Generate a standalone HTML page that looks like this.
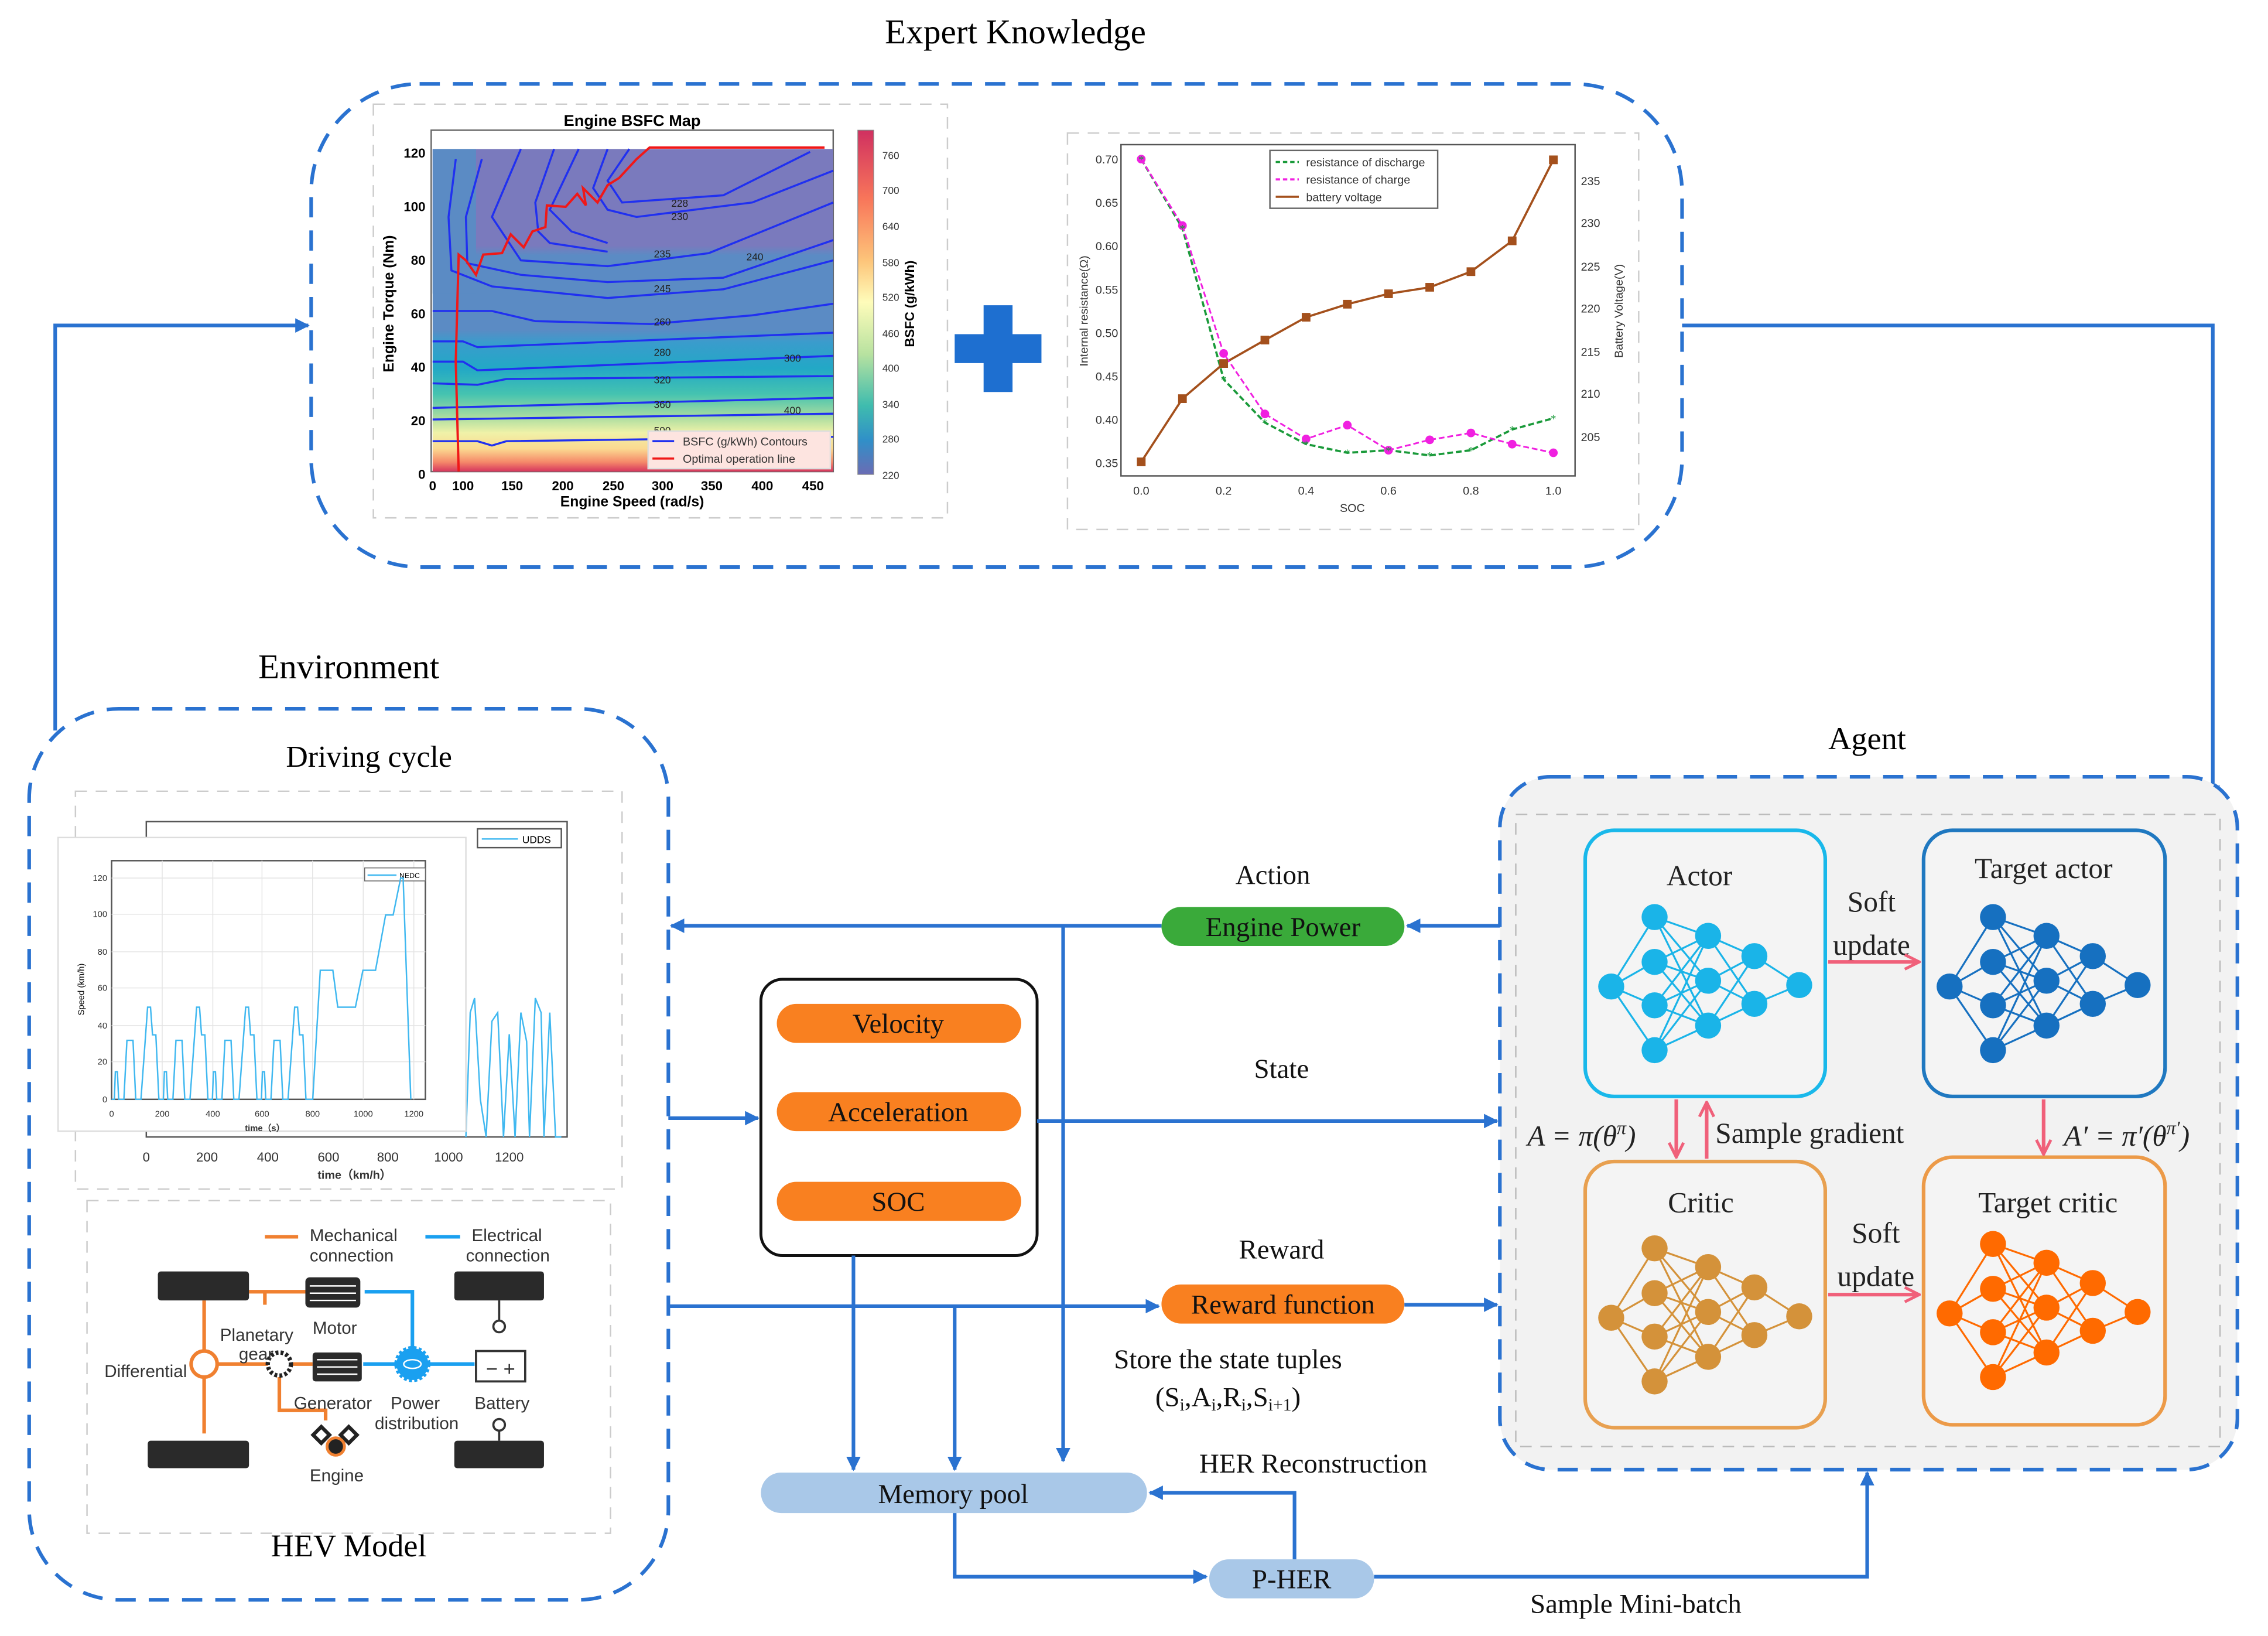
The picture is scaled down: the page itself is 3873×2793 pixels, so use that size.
<!DOCTYPE html>
<html><head><meta charset="utf-8"><style>
html,body{margin:0;padding:0;background:#fff;}
svg{display:block;}
.ser{font-family:"Liberation Serif",serif;}
.sans{font-family:"Liberation Sans",sans-serif;}
</style></head><body>
<svg id="s" width="3873" height="2793" viewBox="0 0 1568 1131" xmlns="http://www.w3.org/2000/svg">
<defs>
<marker id="ab" markerWidth="10" markerHeight="10" refX="9" refY="5" orient="auto" markerUnits="userSpaceOnUse"><path d="M0,0 L10,5 L0,10 z" fill="#2a72d0"/></marker>
<marker id="ap" markerWidth="12" markerHeight="12" refX="11" refY="6" orient="auto" markerUnits="userSpaceOnUse"><path d="M1,1 L11,6 L1,11" fill="none" stroke="#f0607a" stroke-width="2"/></marker>
<linearGradient id="bsfc" x1="0" y1="0" x2="0" y2="1">
<stop offset="0" stop-color="#7a7abd"/><stop offset="0.3" stop-color="#7a7abd"/><stop offset="0.33" stop-color="#5b8bc4"/><stop offset="0.56" stop-color="#5b8bc4"/><stop offset="0.6" stop-color="#3a9ccc"/><stop offset="0.68" stop-color="#22a8c6"/><stop offset="0.76" stop-color="#45c3b0"/><stop offset="0.83" stop-color="#a8dca0"/><stop offset="0.88" stop-color="#f0f2a8"/><stop offset="0.93" stop-color="#fbd890"/><stop offset="0.97" stop-color="#f58a6a"/><stop offset="1" stop-color="#d6365e"/></linearGradient>
<linearGradient id="cb" x1="0" y1="0" x2="0" y2="1">
<stop offset="0" stop-color="#d03060"/><stop offset="0.2" stop-color="#f8765a"/><stop offset="0.38" stop-color="#fdc57a"/><stop offset="0.5" stop-color="#fefcba"/><stop offset="0.65" stop-color="#b8e2a0"/><stop offset="0.8" stop-color="#3fbcae"/><stop offset="0.9" stop-color="#3090c8"/><stop offset="1" stop-color="#6a6cb4"/></linearGradient>
</defs>

<!-- Expert knowledge -->
<text x="702" y="30" class="ser" font-size="24" text-anchor="middle">Expert Knowledge</text>
<rect x="215" y="58" width="948" height="334" rx="75" fill="none" stroke="#2a72d0" stroke-width="2.5" stroke-dasharray="14,9"/>
<rect x="258" y="72" width="397" height="286" fill="#fff" stroke="#ccc" stroke-dasharray="8,6"/>
<text x="437" y="87" class="sans" font-size="11" font-weight="bold" text-anchor="middle">Engine BSFC Map</text>
<rect x="298" y="90" width="278" height="236" fill="#fff" stroke="#666"/>
<rect x="299" y="103" width="277" height="223" fill="url(#bsfc)"/>
<rect x="299" y="103" width="30" height="100" fill="#5b8bc4"/>
<g fill="none" stroke="#2030f0" stroke-width="1.4">
<path d="M299,305 L330,305 L340,308 L350,305 L576,302"/>
<path d="M299,290 L576,286"/>
<path d="M299,282 L576,275"/>
<path d="M299,265 L330,266 L350,262 L576,260"/>
<path d="M299,250 L320,250 L330,256 L576,246"/>
<path d="M299,236 L320,236 L330,240 L576,230"/>
<path d="M299,215 L340,215 L370,222 L450,224 L520,218 L576,210"/>
<path d="M315,110 L310,150 L312,187 L340,198 L420,206 L500,200 L576,180"/>
<path d="M333,110 L322,150 L323,182 L360,190 L420,195 L500,192 L576,166"/>
<path d="M360,103 L340,150 L360,180 L420,184 L490,175 L576,140"/>
<path d="M383,103 L370,140 L372,160 L380,168 L420,174"/>
<path d="M400,103 L380,145 L395,160 L420,168"/>
<path d="M420,103 L410,130 L420,145 L440,150 L520,140 L576,118"/>
<path d="M435,103 L420,125 L430,140 L500,135 L560,105"/>
</g>
<g class="sans" font-size="7" fill="#222">
<text x="464" y="143">228</text><text x="464" y="152">230</text><text x="452" y="178">235</text><text x="516" y="180">240</text><text x="452" y="202">245</text><text x="452" y="225">260</text><text x="452" y="246">280</text><text x="542" y="250">300</text><text x="452" y="265">320</text><text x="452" y="282">360</text><text x="542" y="286">400</text><text x="452" y="300">500</text></g>
<path d="M317,326 L315,250 L317,176 L322,180 L329,190 L334,176 L347,175 L353,162 L362,171 L368,160 L377,157 L378,142 L391,143 L399,134 L405,142 L403,130 L413,140 L420,128 L428,123 L440,110 L449,102 L570,102" fill="none" stroke="#f01818" stroke-width="1.6"/>
<rect x="448" y="298" width="126" height="26" fill="#fde4e0" stroke="#ddd"/>
<line x1="451" y1="305" x2="466" y2="305" stroke="#2030f0" stroke-width="1.5"/><line x1="451" y1="317" x2="466" y2="317" stroke="#f01818" stroke-width="1.5"/>
<text x="472" y="308" class="sans" font-size="8" fill="#333">BSFC (g/kWh) Contours</text><text x="472" y="320" class="sans" font-size="8" fill="#333">Optimal operation line</text>
<g class="sans" font-size="9" font-weight="bold" text-anchor="end"><text x="294" y="109">120</text><text x="294" y="146">100</text><text x="294" y="183">80</text><text x="294" y="220">60</text><text x="294" y="257">40</text><text x="294" y="294">20</text><text x="294" y="331">0</text></g>
<g class="sans" font-size="9" font-weight="bold" text-anchor="middle"><text x="299" y="339">0</text><text x="320" y="339">100</text><text x="354" y="339">150</text><text x="389" y="339">200</text><text x="424" y="339">250</text><text x="458" y="339">300</text><text x="492" y="339">350</text><text x="527" y="339">400</text><text x="562" y="339">450</text></g>
<text x="437" y="350" class="sans" font-size="10" font-weight="bold" text-anchor="middle">Engine Speed (rad/s)</text>
<text transform="translate(272,210) rotate(-90)" class="sans" font-size="10" font-weight="bold" text-anchor="middle">Engine Torque (Nm)</text>
<rect x="593" y="90" width="11" height="238" fill="url(#cb)" stroke="#888" stroke-width="0.5"/>
<g class="sans" font-size="7" fill="#333"><text x="610" y="110">760</text><text x="610" y="134">700</text><text x="610" y="159">640</text><text x="610" y="184">580</text><text x="610" y="208">520</text><text x="610" y="233">460</text><text x="610" y="257">400</text><text x="610" y="282">340</text><text x="610" y="306">280</text><text x="610" y="331">220</text></g>
<text transform="translate(632,210) rotate(-90)" class="sans" font-size="9" font-weight="bold" text-anchor="middle">BSFC (g/kWh)</text>
<!-- plus -->
<path d="M680,211 h20 v20 h20 v20 h-20 v20 h-20 v-20 h-20 v-20 h20 z" fill="#1e6fd0"/>
<!-- battery chart -->
<rect x="738" y="92" width="395" height="274" fill="#fff" stroke="#ccc" stroke-dasharray="8,6"/>
<rect x="775" y="100" width="314" height="229" fill="none" stroke="#555"/>
<g class="sans" font-size="8" fill="#333" text-anchor="end"><text x="773" y="113">0.70</text><text x="773" y="143">0.65</text><text x="773" y="173">0.60</text><text x="773" y="203">0.55</text><text x="773" y="233">0.50</text><text x="773" y="263">0.45</text><text x="773" y="293">0.40</text><text x="773" y="323">0.35</text></g>
<g class="sans" font-size="8" fill="#333"><text x="1093" y="128">235</text><text x="1093" y="157">230</text><text x="1093" y="187">225</text><text x="1093" y="216">220</text><text x="1093" y="246">215</text><text x="1093" y="275">210</text><text x="1093" y="305">205</text></g>
<g class="sans" font-size="8" fill="#333" text-anchor="middle"><text x="789" y="342">0.0</text><text x="846" y="342">0.2</text><text x="903" y="342">0.4</text><text x="960" y="342">0.6</text><text x="1017" y="342">0.8</text><text x="1074" y="342">1.0</text><text x="935" y="354">SOC</text></g>
<text transform="translate(752,215) rotate(-90)" class="sans" font-size="8" fill="#333" text-anchor="middle">Internal resistance(Ω)</text>
<text transform="translate(1122,215) rotate(-90)" class="sans" font-size="8" fill="#333" text-anchor="middle">Battery Voltage(V)</text>
<g id="bat"></g>
<rect x="878" y="104" width="116" height="40" fill="#fff" stroke="#666"/>
<line x1="882" y1="112" x2="898" y2="112" stroke="#1a9a3a" stroke-dasharray="3,2" stroke-width="1.5"/><line x1="882" y1="124" x2="898" y2="124" stroke="#f020e0" stroke-dasharray="3,2" stroke-width="1.5"/><line x1="882" y1="136" x2="898" y2="136" stroke="#a4501c" stroke-width="1.5"/>
<g class="sans" font-size="8" fill="#333"><text x="903" y="115">resistance of discharge</text><text x="903" y="127">resistance of charge</text><text x="903" y="139">battery voltage</text></g>

<!-- connectors top -->
<g fill="none" stroke="#2a72d0" stroke-width="2.5">
<path d="M38,505 L38,225 L213,225" marker-end="url(#ab)"/>
<path d="M1163,225 L1530,225 L1530,552" marker-end="url(#ab)"/>
</g>

<!-- Environment -->
<text x="241" y="469" class="ser" font-size="24" text-anchor="middle">Environment</text>
<rect x="20" y="490" width="442" height="616" rx="62" fill="none" stroke="#2a72d0" stroke-width="2.5" stroke-dasharray="14,9"/>
<text x="255" y="530" class="ser" font-size="21" text-anchor="middle">Driving cycle</text>
<rect x="52" y="547" width="378" height="275" fill="#fff" stroke="#ccc" stroke-dasharray="8,6"/>
<rect x="101" y="568" width="291" height="218" fill="#fff" stroke="#555"/>
<rect x="330" y="573" width="58" height="13" fill="#fff" stroke="#555"/>
<line x1="333" y1="580" x2="358" y2="580" stroke="#40b8f0"/><text x="361" y="583" class="sans" font-size="7">UDDS</text>
<g class="sans" font-size="9" fill="#333" text-anchor="middle"><text x="101" y="803">0</text><text x="143" y="803">200</text><text x="185" y="803">400</text><text x="227" y="803">600</text><text x="268" y="803">800</text><text x="310" y="803">1000</text><text x="352" y="803">1200</text><text x="245" y="815" font-weight="bold" font-size="8">time（km/h）</text></g>
<path d="M322,786 L325,700 L328,690 L332,760 L336,786 L340,706 L344,700 L348,786 L352,715 L356,786 L360,700 L364,720 L366,786 L370,690 L374,700 L376,786 L380,700 L384,786 L388,786" fill="none" stroke="#40b8f0" stroke-width="1"/>
<rect x="40" y="579" width="282" height="203" fill="#fff" stroke="#ddd"/>
<rect x="77" y="595" width="217" height="165" fill="#fff" stroke="#555"/>
<g stroke="#e4e4e4" stroke-width="0.6"><line x1="77" y1="607" x2="294" y2="607"/><line x1="77" y1="632" x2="294" y2="632"/><line x1="77" y1="658" x2="294" y2="658"/><line x1="77" y1="683" x2="294" y2="683"/><line x1="77" y1="709" x2="294" y2="709"/><line x1="77" y1="734" x2="294" y2="734"/><line x1="112" y1="595" x2="112" y2="760"/><line x1="147" y1="595" x2="147" y2="760"/><line x1="181" y1="595" x2="181" y2="760"/><line x1="216" y1="595" x2="216" y2="760"/><line x1="251" y1="595" x2="251" y2="760"/><line x1="286" y1="595" x2="286" y2="760"/></g>
<rect x="252" y="600" width="42" height="9" fill="#fff" stroke="#666" stroke-width="0.6"/>
<line x1="254" y1="605" x2="274" y2="605" stroke="#40b8f0"/><text x="276" y="607" class="sans" font-size="5">NEDC</text>
<path id="nedc" fill="none" stroke="#40b8f0" stroke-width="1"/>
<g class="sans" font-size="6" fill="#333" text-anchor="end"><text x="74" y="609">120</text><text x="74" y="634">100</text><text x="74" y="660">80</text><text x="74" y="685">60</text><text x="74" y="711">40</text><text x="74" y="736">20</text><text x="74" y="762">0</text></g>
<g class="sans" font-size="6" fill="#333" text-anchor="middle"><text x="77" y="772">0</text><text x="112" y="772">200</text><text x="147" y="772">400</text><text x="181" y="772">600</text><text x="216" y="772">800</text><text x="251" y="772">1000</text><text x="286" y="772">1200</text><text x="183" y="782" font-weight="bold">time（s）</text></g>
<text transform="translate(58,684) rotate(-90)" class="sans" font-size="6" text-anchor="middle">Speed (km/h)</text>

<!-- HEV model -->
<rect x="60" y="830" width="362" height="230" fill="#fff" stroke="#ccc" stroke-dasharray="8,6"/>
<line x1="183" y1="855" x2="206" y2="855" stroke="#f08030" stroke-width="2.5"/><line x1="294" y1="855" x2="318" y2="855" stroke="#1aa0f0" stroke-width="2.5"/>
<g class="sans" font-size="12" fill="#333"><text x="214" y="858">Mechanical</text><text x="214" y="872">connection</text><text x="326" y="858">Electrical</text><text x="322" y="872">connection</text></g>
<g fill="none" stroke="#f08030" stroke-width="2.5">
<path d="M141,899 V991"/><path d="M150,943 H186"/><path d="M172,893 H212"/><path d="M183,893 V902"/><path d="M193,952 V975 H225 V982"/><path d="M202,943 H216"/></g>
<circle cx="141" cy="943" r="9" fill="#fff" stroke="#f08030" stroke-width="2.5"/>
<g fill="none" stroke="#1aa0f0" stroke-width="2.5"><path d="M252,893 H285 V943"/><path d="M251,943 H328"/></g>
<g fill="#2a2a2a">
<rect x="109" y="879" width="63" height="20" rx="2"/><rect x="102" y="996" width="70" height="19" rx="2"/><rect x="314" y="879" width="62" height="20" rx="2"/><rect x="314" y="996" width="62" height="19" rx="2"/>
<rect x="211" y="883" width="38" height="21" rx="3"/><rect x="216" y="935" width="34" height="20" rx="2"/>
</g>
<g stroke="#fff" stroke-width="1"><line x1="214" y1="889" x2="246" y2="889"/><line x1="214" y1="894" x2="246" y2="894"/><line x1="214" y1="899" x2="246" y2="899"/><line x1="219" y1="940" x2="247" y2="940"/><line x1="219" y1="945" x2="247" y2="945"/><line x1="219" y1="950" x2="247" y2="950"/></g>
<circle cx="193" cy="943" r="8" fill="#fff" stroke="#222" stroke-width="3" stroke-dasharray="2,1.5"/>
<circle cx="285" cy="943" r="11" fill="#1aa0f0" stroke="#1aa0f0" stroke-width="3" stroke-dasharray="2,1.5"/>
<ellipse cx="285" cy="943" rx="6" ry="3" fill="none" stroke="#fff"/>
<rect x="329" y="934" width="34" height="21" fill="#fff" stroke="#333" stroke-width="1.5"/>
<text x="346" y="951" class="sans" font-size="14" text-anchor="middle" fill="#333">− +</text>
<g fill="none" stroke="#333" stroke-width="1.5"><circle cx="345" cy="917" r="4"/><line x1="345" y1="899" x2="345" y2="913"/><circle cx="345" cy="985" r="4"/><line x1="345" y1="989" x2="345" y2="996"/></g>
<g fill="none" stroke="#222" stroke-width="2.5"><rect x="218" y="988" width="8" height="8" transform="rotate(45 222 992)"/><rect x="237" y="988" width="8" height="8" transform="rotate(45 241 992)"/></g>
<circle cx="232" cy="1000" r="6" fill="#222" stroke="#f08030" stroke-width="2"/>
<g class="sans" font-size="12" fill="#333"><text x="72" y="952">Differential</text><text x="152" y="927">Planetary</text><text x="165" y="940">gear</text><text x="216" y="922">Motor</text><text x="203" y="974">Generator</text><text x="270" y="974">Power</text><text x="259" y="988">distribution</text><text x="328" y="974">Battery</text><text x="214" y="1024">Engine</text></g>
<text x="241" y="1076" class="ser" font-size="22" text-anchor="middle">HEV Model</text>

<!-- Agent -->
<text x="1291" y="518" class="ser" font-size="22" text-anchor="middle">Agent</text>
<rect x="1037" y="537" width="510" height="479" rx="35" fill="#f2f2f2" stroke="#2a72d0" stroke-width="2.5" stroke-dasharray="14,9"/>
<rect x="1048" y="563" width="487" height="437" fill="#f2f2f2" stroke="#bbb" stroke-dasharray="8,6"/>
<rect x="1096" y="574" width="166" height="184" rx="20" fill="#f4f4f4" stroke="#19b8ea" stroke-width="2.5"/>
<rect x="1330" y="574" width="167" height="184" rx="20" fill="#f4f4f4" stroke="#1f78c0" stroke-width="2.5"/>
<rect x="1096" y="803" width="166" height="184" rx="20" fill="#f4f4f4" stroke="#e8a050" stroke-width="2.5"/>
<rect x="1330" y="800" width="167" height="185" rx="20" fill="#f4f4f4" stroke="#ec9a48" stroke-width="2.5"/>
<g id="nets"></g>
<g class="ser" font-size="20" fill="#222" text-anchor="middle">
<text x="1175" y="612">Actor</text><text x="1413" y="607">Target actor</text><text x="1176" y="838">Critic</text><text x="1416" y="838">Target critic</text>
<text x="1294" y="630">Soft</text><text x="1294" y="660">update</text><text x="1297" y="859">Soft</text><text x="1297" y="889">update</text></g>
<g class="ser" font-size="20" fill="#222"><text x="1186" y="790">Sample gradient</text><text x="1056" y="792" font-style="italic">A = π(θ<tspan font-size="13" dy="-8">π</tspan><tspan dy="8">)</tspan></text><text x="1427" y="792" font-style="italic">A′ = π′(θ<tspan font-size="13" dy="-8">π′</tspan><tspan dy="8">)</tspan></text></g>
<g stroke="#f0607a" stroke-width="2.5" fill="none">
<line x1="1264" y1="665" x2="1327" y2="665" marker-end="url(#ap)"/>
<line x1="1264" y1="895" x2="1327" y2="895" marker-end="url(#ap)"/>
<line x1="1159" y1="760" x2="1159" y2="800" marker-end="url(#ap)"/>
<line x1="1180" y1="801" x2="1180" y2="762" marker-end="url(#ap)"/>
<line x1="1413" y1="760" x2="1413" y2="798" marker-end="url(#ap)"/>
</g>

<!-- center -->
<rect x="526" y="677" width="191" height="191" rx="15" fill="#fff" stroke="#111" stroke-width="2"/>
<g fill="#f98020"><rect x="537" y="694" width="169" height="27" rx="13.5"/><rect x="537" y="755" width="169" height="27" rx="13.5"/><rect x="537" y="817" width="169" height="27" rx="13.5"/><rect x="803" y="888" width="168" height="27" rx="13.5"/></g>
<rect x="803" y="627" width="168" height="27" rx="13.5" fill="#3aaa3a"/>
<rect x="526" y="1018" width="267" height="28" rx="14" fill="#a9c8e8"/>
<rect x="836" y="1078" width="114" height="27" rx="13.5" fill="#a9c8e8"/>
<g class="ser" font-size="19" fill="#111" text-anchor="middle">
<text x="621" y="714">Velocity</text><text x="621" y="775">Acceleration</text><text x="621" y="837">SOC</text>
<text x="887" y="647">Engine Power</text><text x="887" y="908">Reward function</text>
<text x="659" y="1039">Memory pool</text><text x="893" y="1098">P-HER</text>
<text x="880" y="611">Action</text><text x="886" y="745">State</text><text x="886" y="870">Reward</text>
<text x="849" y="946">Store the state tuples</text>
<text x="849" y="972">(S<tspan font-size="12" dy="3">i</tspan><tspan dy="-3">,A</tspan><tspan font-size="12" dy="3">i</tspan><tspan dy="-3">,R</tspan><tspan font-size="12" dy="3">i</tspan><tspan dy="-3">,S</tspan><tspan font-size="12" dy="3">i+1</tspan><tspan dy="-3">)</tspan></text>
<text x="908" y="1018">HER Reconstruction</text><text x="1131" y="1115">Sample Mini-batch</text></g>
<g fill="none" stroke="#2a72d0" stroke-width="2.5">
<line x1="1037" y1="640" x2="973" y2="640" marker-end="url(#ab)"/>
<line x1="803" y1="640" x2="464" y2="640" marker-end="url(#ab)"/>
<line x1="735" y1="640" x2="735" y2="1010" marker-end="url(#ab)"/>
<line x1="462" y1="773" x2="524" y2="773" marker-end="url(#ab)"/>
<line x1="717" y1="775" x2="1035" y2="775" marker-end="url(#ab)"/>
<line x1="462" y1="903" x2="801" y2="903" marker-end="url(#ab)"/>
<line x1="971" y1="902" x2="1035" y2="902" marker-end="url(#ab)"/>
<line x1="590" y1="868" x2="590" y2="1016" marker-end="url(#ab)"/>
<line x1="660" y1="903" x2="660" y2="1016" marker-end="url(#ab)"/>
<path d="M660,1046 V1090 H834" marker-end="url(#ab)"/>
<path d="M895,1078 V1032 H795" marker-end="url(#ab)"/>
<path d="M950,1090 H1291 V1018" marker-end="url(#ab)"/>
</g>
</svg>
<script>
var NS="http://www.w3.org/2000/svg";
function el(p,t,a){var e=document.createElementNS(NS,t);for(var k in a)e.setAttribute(k,a[k]);p.appendChild(e);return e;}
var nets=document.getElementById('nets');
var L=[[18,[108]],[48,[60,91,121,152]],[85,[73,104,135]],[117,[87,120]],[148,[107]]];
[[1096,574,'#1ab4e8'],[1330,574,'#1670c0'],[1096,803,'#d4923a'],[1330,800,'#ff6a00']].forEach(function(b){
 for(var i=0;i<L.length-1;i++)L[i][1].forEach(function(y1){L[i+1][1].forEach(function(y2){
  el(nets,'line',{x1:b[0]+L[i][0],y1:b[1]+y1,x2:b[0]+L[i+1][0],y2:b[1]+y2,stroke:b[2],'stroke-width':1.3});});});
 L.forEach(function(l){l[1].forEach(function(y){el(nets,'circle',{cx:b[0]+l[0],cy:b[1]+y,r:9,fill:b[2]});});});
});
var bat=document.getElementById('bat');
function ry(r){return 110+(0.70-r)/0.35*209;}
var dis=[0.70,0.62,0.445,0.395,0.37,0.36,0.363,0.357,0.363,0.387,0.40];
var chg=[0.70,0.623,0.475,0.405,0.376,0.392,0.363,0.375,0.383,0.37,0.36];
var vy=[319.3,275.6,251.3,235.1,219.3,210.3,203.1,198.6,187.8,166.5,110.5];
function pts(f){return [0,1,2,3,4,5,6,7,8,9,10].map(function(i){return (789+i*28.5)+','+f(i);}).join(' ');}
el(bat,'polyline',{points:pts(function(i){return vy[i];}),fill:'none',stroke:'#a4501c','stroke-width':1.5});
el(bat,'polyline',{points:pts(function(i){return ry(dis[i]);}),fill:'none',stroke:'#1a9a3a','stroke-width':1.5,'stroke-dasharray':'4,2'});
el(bat,'polyline',{points:pts(function(i){return ry(chg[i]);}),fill:'none',stroke:'#f020e0','stroke-width':1.2,'stroke-dasharray':'4,2'});
for(var i=0;i<11;i++){var x=789+i*28.5;
 el(bat,'rect',{x:x-3,y:vy[i]-3,width:6,height:6,fill:'#a4501c'});
 el(bat,'circle',{cx:x,cy:ry(chg[i]),r:3,fill:'#f020e0'});
 el(bat,'text',{x:x,y:ry(dis[i])+3,'font-size':8,'text-anchor':'middle',fill:'#1a9a3a'}).textContent='*';}
var ece=[[0,0],[11,0],[15,15],[23,15],[28,0],[49,0],[61,32],[85,32],[96,0],[117,0],[143,50],[155,50],[163,35],[176,35],[188,0],[195,0]];
var prof=[];for(var k=0;k<4;k++)ece.forEach(function(p){prof.push([p[0]+k*195,p[1]]);});
[[800,0],[830,70],[880,70],[900,50],[970,50],[1000,70],[1050,70],[1090,100],[1120,100],[1150,120],[1160,120],[1190,0]].forEach(function(p){prof.push(p);});
document.getElementById('nedc').setAttribute('d','M'+prof.map(function(p){return (77+p[0]/1200*208.6).toFixed(1)+','+(760-p[1]/120*153).toFixed(1);}).join(' L'));
</script>
</body></html>
